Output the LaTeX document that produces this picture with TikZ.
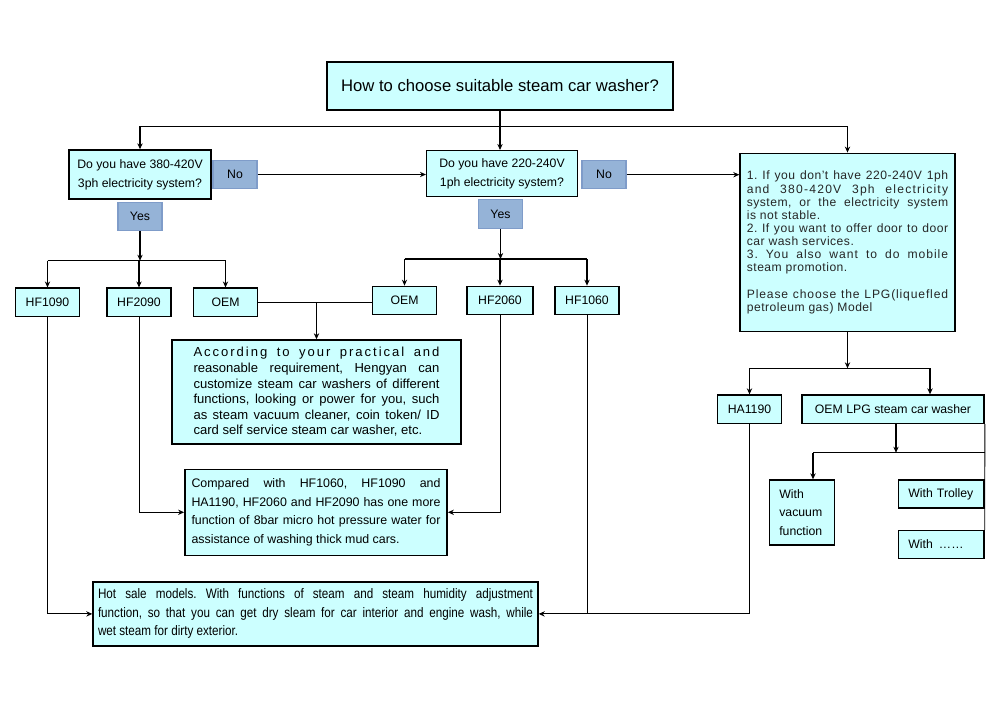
\documentclass[tikz,border=0pt]{standalone}
\usepackage{fontspec}
\setmainfont{Liberation Sans}
\newfontfamily\narrowsans[FakeStretch=0.85]{Liberation Sans}
\usetikzlibrary{positioning,arrows.meta}
\definecolor{boxfill}{HTML}{CCFFFF}
\definecolor{tagfill}{HTML}{95B3D7}
\definecolor{tagline}{HTML}{7F9CC9}
\frenchspacing

\begin{document}
\begin{tikzpicture}[
    x=0.75pt, y=-0.75pt,
    >={Stealth[length=4.5pt,width=4pt]},
    box/.style={draw=black, line width=1.1pt, fill=boxfill, inner sep=0pt,
        font=\fontsize{9.2}{14}\selectfont},
    model/.style={box, line width=1pt, minimum width=48pt, minimum height=21.3pt},
    tag/.style={draw=tagline, line width=0.8pt, fill=tagfill, inner sep=0pt,
        minimum width=33pt, minimum height=21.3pt, font=\fontsize{9.2}{11}\selectfont},
    textbox/.style={box, align=justify},
    link/.style={line width=1.1pt},
    thin link/.style={line width=0.7pt}
]
\fill[white] (0,0) rectangle (1000,708);
\useasboundingbox (0,0) rectangle (1000,708);

% questions
\node[box, minimum width=259.5pt, minimum height=36pt, font=\fontsize{12.5}{15}\selectfont] (title) at (500,86) {How to choose suitable steam car washer?};
\node[box, align=center, minimum width=106.5pt, minimum height=36.75pt] (q1) at (140,174.5) {Do you have 380-420V\\3ph electricity system?};
\node[tag] (no1) at (235,174.5) {No};
\node[tag] (yes1) at (140,216.3) {Yes};
\node[box, align=center, minimum width=113pt, minimum height=34.5pt] (q2) at (502,173.7) {Do you have 220-240V\\1ph electricity system?};
\node[tag] (no2) at (604,174.7) {No};
\node[tag] (yes2) at (500.5,214) {Yes};
\node[textbox, text width=151pt, inner xsep=5.1pt, minimum height=133.8pt, font=\fontsize{9.1}{9.85}\selectfont\addfontfeature{LetterSpace=4}, text=black!85] (lpgq) at (847.5,242.5) {1.~If you don't have 220-240V 1ph\linebreak {\addfontfeature{LetterSpace=10}and 380-420V 3ph electricity}\linebreak system, or the electricity system\linebreak is not stable.\\ 2.~If you want to offer door to door\linebreak car wash services.\\ {\addfontfeature{LetterSpace=8}3.~You also want to do mobile}\linebreak steam promotion.\\[9.85pt] {\addfontfeature{LetterSpace=7}Please choose the LPG(liquefled}\linebreak petroleum gas) Model};

% models
\node[model] (hf1090) at (47.5,302.3) {HF1090};
\node[model] (hf2090) at (139,302.3) {HF2090};
\node[model] (oem1) at (225.5,302.3) {OEM};
\node[model] (oem2) at (404.5,300.5) {OEM};
\node[model, minimum width=49.5pt] (hf2060) at (500,300.5) {HF2060};
\node[model] (hf1060) at (587,300.5) {HF1060};
\node[model] (ha1190) at (749.5,409.2) {HA1190};
\node[model, minimum width=136.7pt] (oemlpg) at (893,409.2) {OEM LPG steam car washer};
\node[model, align=left, text width=33.75pt, inner xsep=7.5pt, minimum height=48.75pt] (withvac) at (801.8,512.5) {With\\vacuum\\function};
\node[model, align=left, text width=49.3pt, inner xsep=7.5pt, minimum height=20.8pt] (trolley) at (941.2,494) {With Trolley};
\node[model, align=left, text width=49.3pt, inner xsep=7.5pt, minimum height=20.8pt] (withmore) at (941.2,544.5) {With \,……};

% notes
\node[textbox, text width=184.5pt, inner xsep=16.1pt, minimum height=78pt, font=\fontsize{9.8}{11.7}\selectfont] (custom) at (316.5,392) {{\addfontfeature{LetterSpace=15}According to your practical and}\linebreak reasonable requirement, Hengyan can\linebreak customize steam car washers of different\linebreak functions, looking or power for you, such\linebreak as steam vacuum cleaner, coin token/ ID\linebreak card self service steam car washer, etc.};
\node[textbox, text width=186.75pt, inner xsep=5pt, minimum height=64.5pt, font=\fontsize{9.3}{14}\selectfont] (compared) at (316,512.3) {Compared with HF1060, HF1090 and\linebreak HA1190, HF2060 and HF2090 has one more\linebreak function of 8bar micro hot pressure water for\linebreak assistance of washing thick mud cars.};
\node[textbox, text width=326.25pt, inner xsep=3.75pt, minimum height=48.2pt, font=\narrowsans\fontsize{10.3}{13.9}\selectfont] (hotsale) at (315.5,613.9) {Hot sale models. With functions of steam and steam humidity adjustment\linebreak function, so that you can get dry sleam for car interior and engine wash, while\linebreak wet steam for dirty exterior.};

% top branches
\coordinate (tsplit) at (500,126);
\draw[link,->] (title.south) -- (title.south |- q2.north);
\draw[thin link] (q1.north |- tsplit) -- (lpgq.north |- tsplit);
\draw[link,->] (q1.north |- tsplit) -- (q1.north);
\draw[link,->] (lpgq.north |- tsplit) -- (lpgq.north);
\draw[thin link,->] (no1.east) -- (no1.east -| q2.west);
\draw[thin link,->] (no2.east) -- (no2.east -| lpgq.west);

% yes branches
\coordinate (ysplit1) at (140,260.7);
\coordinate (ysplit2) at (500.5,259);
\draw[link,->] (yes1.south) -- (ysplit1);
\draw[link] (hf1090.north |- ysplit1) -- (oem1.north |- ysplit1);
\foreach \m in {hf1090,hf2090,oem1}
    \draw[link,->] (\m.north |- ysplit1) -- (\m.north);
\draw[link,->] (yes2.south) -- (ysplit2);
\draw[link] (oem2.north |- ysplit2) -- (hf1060.north |- ysplit2);
\foreach \m in {oem2,hf2060,hf1060}
    \draw[link,->] (\m.north |- ysplit2) -- (\m.north);

% OEM join
\draw[link] (oem1.east) -- (oem1.east -| oem2.west);
\draw[link,->] (oem1.east -| custom.north) -- (custom.north);

% down to notes
\draw[thin link,->] (hf2090.south) |- (compared.west);
\draw[thin link,->] (hf2060.south) |- (compared.east);
\draw[thin link,->] (hf1090.south) |- (hotsale.west);
\draw[thin link,->] (hf1060.south) |- (hotsale.east);
\draw[thin link] (ha1190.south) |- (hf1060.south |- hotsale.east);

% LPG side
\coordinate (lsplit) at (847.5,368.3);
\coordinate (lpgin) at (930,368.3);
\draw[link,->] (lpgq.south) -- (lsplit);
\draw[thin link] (ha1190.north |- lsplit) -- (lpgin);
\draw[link,->] (ha1190.north |- lsplit) -- (ha1190.north);
\draw[link,->] (lpgin) -- (lpgin |- oemlpg.north);
\coordinate (osplit) at (896,452.7);
\coordinate (vacin) at (813,452.7);
\draw[link,->] (osplit |- oemlpg.south) -- (osplit);
\draw[thin link] (vacin) -- (oemlpg.east |- osplit);
\draw[link,->] (vacin) -- (vacin |- withvac.north);
\draw[thin link] (oemlpg.south east) -- (withmore.north east);
\end{tikzpicture}
\end{document}
